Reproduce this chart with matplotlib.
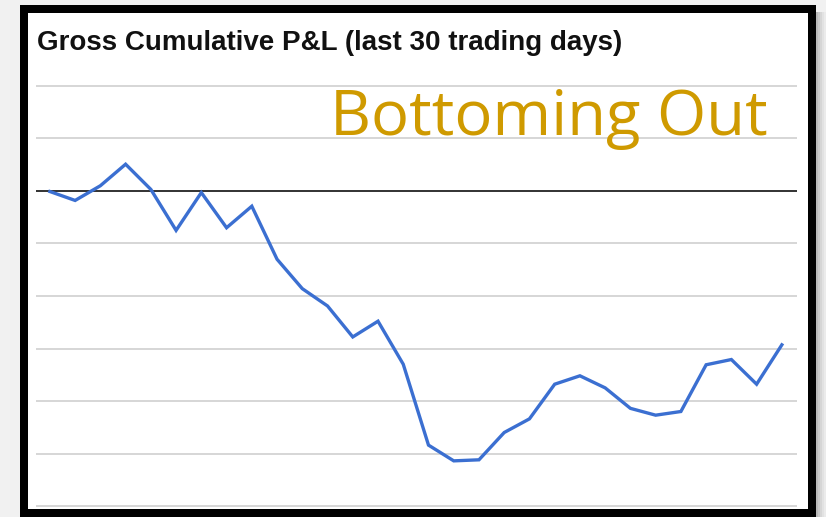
import matplotlib
matplotlib.use("Agg")
import matplotlib.pyplot as plt
from matplotlib.patches import Rectangle

# Data (relative units; gridline step = 10, zero line at 0)
days = list(range(1, 31))
pnl = [-0.1, -1.8, 1.0, 5.1, 0.3, -7.5, -0.3, -7.0, -2.9, -13.0,
       -18.6, -21.9, -27.8, -24.8, -33.0, -48.4, -51.4, -51.2, -46.0, -43.4,
       -36.8, -35.2, -37.5, -41.4, -42.7, -42.0, -33.1, -32.1, -36.8, -29.3]
grid_levels = [20, 10, -10, -20, -30, -40, -50, -60]
title = "Gross Cumulative P&L (last 30 trading days)"
overlay = "Bottoming Out"

W, H = 826, 517
fig = plt.figure(figsize=(W / 100, H / 100), dpi=100)
fig.patch.set_facecolor("#f1f1f1")

# shadow on the right
for i, c in enumerate(["#b8b8b8", "#c8c8c8", "#d6d6d6", "#e2e2e2", "#ebebeb"]):
    fig.patches.append(Rectangle(((816 + 2 * i) / W, 0), 2 / W, (H - 12) / H,
                                 transform=fig.transFigure, facecolor=c,
                                 edgecolor="none", zorder=0))
# white card with black frame
fig.patches.append(Rectangle((24 / W, 4 / H), (812 - 24) / W, (H - 9 - 4) / H,
                             transform=fig.transFigure, facecolor="white",
                             edgecolor="black", linewidth=5.76, zorder=1))

left, right = 36, 797
top, bottom = 80, 510
ax = fig.add_axes([left / W, 1 - bottom / H, (right - left) / W, (bottom - top) / H])
ax.set_facecolor("none")
ax.set_zorder(2)

for g in grid_levels:
    ax.axhline(g, color="#d6d6d6", linewidth=1.4, zorder=1)
ax.axhline(0, color="#222222", linewidth=1.3, zorder=2)

ax.plot(days, pnl, color="#3b6fd1", linewidth=2.4, solid_joinstyle="miter", zorder=3)

ax.set_xlim(0.45, 30.6)
ax.set_ylim(-60.76, 21.14)
ax.axis("off")

fig.text(37 / W, 1 - 50 / H, title, fontsize=20, fontweight="bold",
         family=["Liberation Sans", "DejaVu Sans"], color="#111111",
         ha="left", va="baseline", zorder=5)
fig.text(330 / W, 1 - 135 / H, overlay, fontsize=45.6, family=["Open Sans", "DejaVu Sans"],
         color="#CF9A00", ha="left", va="baseline", zorder=5)

fig.savefig("out.png", dpi=100)
